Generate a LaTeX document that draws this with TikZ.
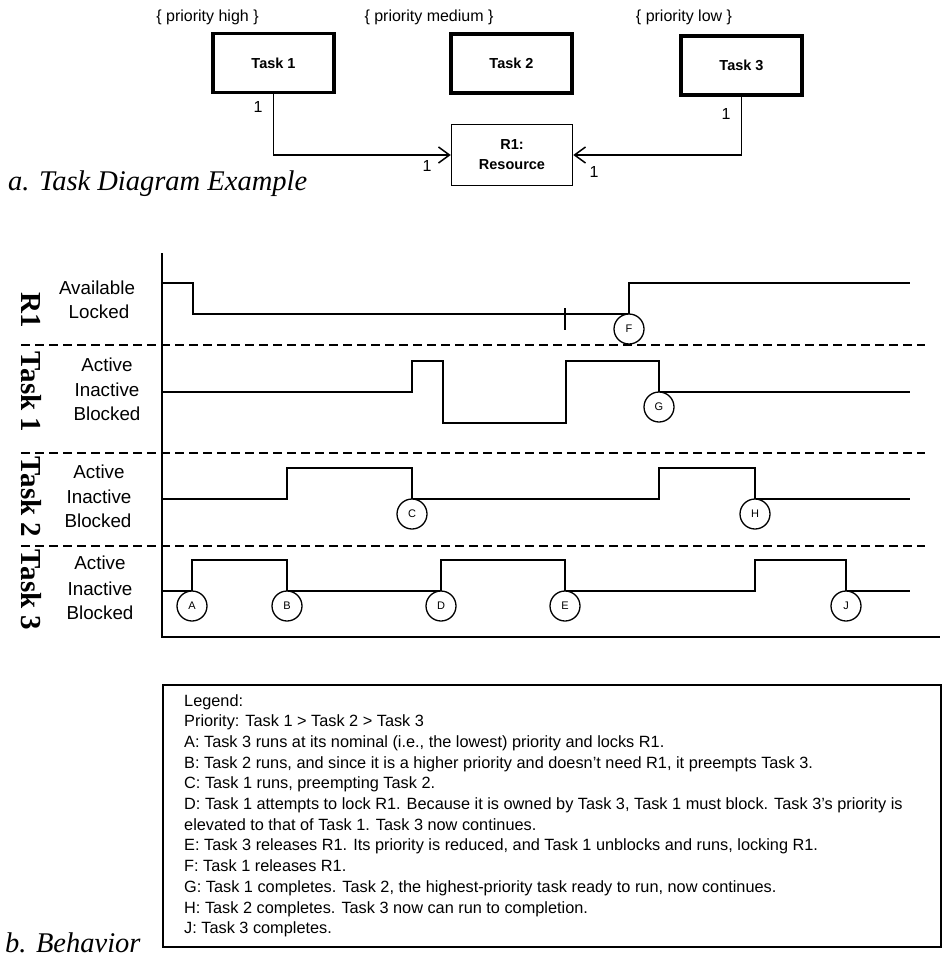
\documentclass[tikz,border=0pt]{standalone}
\usepackage{fontspec}
\setmainfont{Liberation Sans}
\newfontfamily\capfont{Liberation Serif}
\usetikzlibrary{arrows.meta}

\begin{document}
\begin{tikzpicture}[x=1pt,y=-1pt,
  taskbox/.style={draw, line width=3.5pt, minimum width=121pt, minimum height=59pt,
    inner sep=0pt, font=\fontsize{14.5}{17}\selectfont\bfseries},
  resbox/.style={draw, line width=1.5pt, minimum width=121pt, minimum height=61pt,
    inner sep=0pt, align=center, font=\fontsize{14.5}{20}\selectfont\bfseries},
  prio/.style={font=\fontsize{16}{19}\selectfont, inner sep=0pt},
  mult/.style={font=\fontsize{16}{19}\selectfont, inner sep=0pt},
  conn/.style={line width=1.5pt, -{Straight Barb[length=11pt, width=16pt, line width=1.5pt]}},
  caption/.style={font=\capfont\itshape\fontsize{28.5}{32}\selectfont, inner sep=0pt, anchor=base west},
  wave/.style={line width=2pt, line join=miter},
  sep/.style={line width=1.3pt, dash pattern=on 9pt off 5pt},
  lvl/.style={font=\fontsize{18.8}{22}\selectfont, inner sep=0pt},
  rowname/.style={font=\capfont\bfseries\fontsize{29}{32}\selectfont, rotate=-90, inner sep=0pt},
  event/.style={draw, circle, line width=1.3pt, minimum size=30pt, inner sep=0pt,
    fill=white, font=\fontsize{11}{13}\selectfont},
  legline/.style={font=\fontsize{16.3}{20}\selectfont, inner sep=0pt, anchor=base west}
]
\useasboundingbox (0,0) rectangle (944,953);

% ---------- task diagram ----------
\node[prio] (p1) at (207.5,17) {\{ priority high \}};
\node[prio] (p2) at (429,17) {\{ priority medium \}};
\node[prio] (p3) at (684,17) {\{ priority low \}};

\node[taskbox] (t1) at (273.5,63) {Task 1};
\node[taskbox] (t2) at (511.5,63.5) {Task 2};
\node[taskbox] (t3) at (741.5,65.5) {Task 3};
\node[resbox]  (r1) at (512,155) {R1:\\Resource};

\draw[conn] (t1.south) |- (r1.west);
\draw[conn] (t3.south) |- (r1.east);

\node[mult] (m1) at (258,107) {1};
\node[mult] (m2) at (427,166) {1};
\node[mult] (m3) at (594,172) {1};
\node[mult] (m4) at (726,114) {1};

\node[caption] (capa) at (8,190) {a. Task Diagram Example};

% ---------- timing diagram ----------
\draw[sep] (21,345) -- (925,345);
\draw[sep] (21,453) -- (925,453);
\draw[sep] (21,546) -- (925,546);

\draw[line width=2pt] (162,253) -- (162,637) -- (940,637);

% R1
\draw[wave] (162,283) -- (193,283) -- (193,314) -- (629,314) -- (629,283) -- (910,283);
\draw[line width=1.5pt] (565,308) -- (565,330);
% Task 1
\draw[wave] (162,392) -- (412,392) -- (412,361) -- (443,361) -- (443,423) -- (566,423)
  -- (566,361) -- (659,361) -- (659,392) -- (910,392);
% Task 2
\draw[wave] (162,499) -- (287,499) -- (287,468) -- (412,468) -- (412,499) -- (659,499)
  -- (659,468) -- (755,468) -- (755,499) -- (910,499);
% Task 3
\draw[wave] (162,591) -- (192,591) -- (192,560) -- (287,560) -- (287,591) -- (441,591)
  -- (441,560) -- (565,560) -- (565,591) -- (755,591) -- (755,560) -- (846,560)
  -- (846,591) -- (910,591);

% event markers
\node[event] (evF) at (629,329) {F};
\node[event] (evG) at (659,407) {G};
\node[event] (evC) at (412,514) {C};
\node[event] (evH) at (755,514) {H};
\node[event] (evA) at (192,606) {A};
\node[event] (evB) at (287,606) {B};
\node[event] (evD) at (441,606) {D};
\node[event] (evE) at (565,606) {E};
\node[event] (evJ) at (846,606) {J};

% level names
\node[lvl] (r1a) at (97,288) {Available};
\node[lvl] (r1l) at (99,312) {Locked};
\node[lvl] (k1a) at (107,365) {Active};
\node[lvl] (k1i) at (107,390) {Inactive};
\node[lvl] (k1b) at (107,414) {Blocked};
\node[lvl] (k2a) at (99,472) {Active};
\node[lvl] (k2i) at (99,497) {Inactive};
\node[lvl] (k2b) at (98,521) {Blocked};
\node[lvl] (k3a) at (100,563) {Active};
\node[lvl] (k3i) at (100,589) {Inactive};
\node[lvl] (k3b) at (100,613) {Blocked};

% row names
\node[rowname] (nR1) at (31,310) {R1};
\node[rowname] (nT1) at (31,392) {Task 1};
\node[rowname] (nT2) at (31,497) {Task 2};
\node[rowname] (nT3) at (31,590) {Task 3};

% ---------- legend ----------
\node[draw, line width=1.5pt, anchor=north west, minimum width=778pt, minimum height=262pt,
  inner sep=0pt] (legend) at (162,684) {};
\foreach \t [count=\i] in {
  {Legend:},
  {Priority: Task 1 > Task 2 > Task 3},
  {A: Task 3 runs at its nominal (i.e., the lowest) priority and locks R1.},
  {B: Task 2 runs, and since it is a higher priority and doesn’t need R1, it preempts Task 3.},
  {C: Task 1 runs, preempting Task 2.},
  {D: Task 1 attempts to lock R1. Because it is owned by Task 3, Task 1 must block. Task 3’s priority is},
  {elevated to that of Task 1. Task 3 now continues.},
  {E: Task 3 releases R1. Its priority is reduced, and Task 1 unblocks and runs, locking R1.},
  {F: Task 1 releases R1.},
  {G: Task 1 completes. Task 2, the highest-priority task ready to run, now continues.},
  {H: Task 2 completes. Task 3 now can run to completion.},
  {J: Task 3 completes.}}
  \node[legline] (leg\i) at (184,{706+20.7*(\i-1)}) {\t};

\node[caption] (capb) at (5,952) {b. Behavior};
\end{tikzpicture}
\end{document}
